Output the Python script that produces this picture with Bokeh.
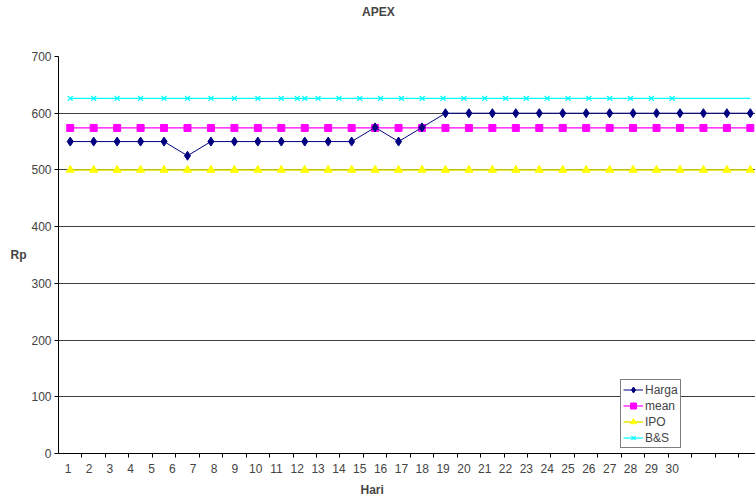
from bokeh.plotting import figure
from bokeh.models import FixedTicker, Legend, LegendItem, Range1d, Title
from bokeh.embed import file_html
from bokeh.resources import INLINE

# ---- data ----
days = list(range(1, 31))
day_labels = [str(d) for d in days]
harga = [550, 550, 550, 550, 550, 525, 550, 550, 550, 550,
         550, 550, 550, 575, 550, 575, 600, 600, 600, 600,
         600, 600, 600, 600, 600, 600, 600, 600, 600, 600]
mean = [574] * 30
ipo = [500] * 30
bs = [626] * 30
y_ticks = [0, 100, 200, 300, 400, 500, 600, 700]

# layout of the (squeezed) day labels, as in the reference
lab_start, lab_step = 0.914, 0.888
label_pos = [lab_start + lab_step * (d - 1) for d in days]
boundaries = [d + 0.5 for d in days]
# B&S markers: first days at their own category, later ones on label scale
bs_mark_x = days[:11] + label_pos[11:]
bs_mark_y = bs[:11] + bs[11:]

FONT = "Liberation Sans"

p = figure(width=755, height=501, output_backend="svg", toolbar_location=None,
           x_range=Range1d(0.5, 30.22), y_range=Range1d(0, 700),
           min_border_left=58, min_border_right=0, min_border_top=56, min_border_bottom=48)
p.outline_line_color = None
p.background_fill_color = "white"
p.border_fill_color = "white"

# title
p.title.text = "APEX"
p.title.text_font = FONT
p.title.text_font_size = "12px"
p.title.text_font_style = "bold"
p.title.align = "left"
p.title.offset = 303.5
p.title.standoff = 0

# empty spacer between title and plot area
p.add_layout(Title(text=" ", text_font=FONT, text_font_size="12px", standoff=22), "above")

# grid
p.xgrid.visible = False
p.ygrid.ticker = FixedTicker(ticks=y_ticks)
p.ygrid.grid_line_color = "black"
p.ygrid.grid_line_alpha = 0.75

# y axis
p.yaxis.ticker = FixedTicker(ticks=y_ticks)
p.yaxis.axis_label = "Rp"
p.yaxis.axis_label_orientation = "horizontal"
p.yaxis.axis_label_text_font = FONT
p.yaxis.axis_label_text_font_size = "12px"
p.yaxis.axis_label_text_font_style = "bold"
p.yaxis.axis_label_standoff = 2
p.yaxis.major_label_text_font = FONT
p.yaxis.major_label_text_font_size = "12px"
p.yaxis.major_label_standoff = 3
p.yaxis.major_tick_out = 4
p.yaxis.major_tick_in = 0
p.yaxis.minor_tick_line_color = None
p.yaxis.axis_line_color = "black"

# x axis
p.xaxis.ticker = FixedTicker(ticks=label_pos, minor_ticks=boundaries)
p.xaxis.major_label_overrides = {pos: lab for pos, lab in zip(label_pos, day_labels)}
p.xaxis.major_label_text_font = FONT
p.xaxis.major_label_text_font_size = "12px"
p.xaxis.major_label_standoff = 6
p.xaxis.major_tick_out = 0
p.xaxis.major_tick_in = 0
p.xaxis.minor_tick_out = 4
p.xaxis.minor_tick_in = 0
p.xaxis.minor_tick_line_color = "black"
p.xaxis.axis_line_color = "black"

# x axis title, placed under the day labels as in the reference
hari = Title(text="Hari", align="left", offset=302, text_font=FONT,
             text_font_size="12px", text_font_style="bold", standoff=10)
p.add_layout(hari, "below")

# series
l_bs = p.line(days, bs, line_color="#00FFFF", line_width=1.2)
m_bs = p.scatter(bs_mark_x, bs_mark_y, marker="x", size=7, line_color="#00FFFF", line_width=1.2)
l_ipo = p.line(days, ipo, line_color="#E6E600", line_width=1.5)
m_ipo = p.scatter(days, ipo, marker="triangle", size=8, fill_color="#FFFF00", line_color="#FFFF00")
l_mean = p.line(days, mean, line_color="#FF00FF", line_width=1.2)
m_mean = p.scatter(days, mean, marker="square", size=7, fill_color="#FF00FF", line_color="#FF00FF")
l_h = p.line(days, harga, line_color="#000080", line_width=1)
m_h = p.scatter(days, harga, marker="diamond", size=9, fill_color="#000080", line_color="#000080")

legend = Legend(items=[
    LegendItem(label="Harga", renderers=[l_h, m_h]),
    LegendItem(label="mean", renderers=[l_mean, m_mean]),
    LegendItem(label="IPO", renderers=[l_ipo, m_ipo]),
    LegendItem(label="B&S", renderers=[l_bs, m_bs]),
], location=(562, 5))
legend.label_text_font = FONT
legend.label_text_font_size = "12px"
legend.border_line_color = "black"
legend.border_line_width = 1
legend.background_fill_color = "white"
legend.background_fill_alpha = 1
legend.glyph_width = 20
legend.glyph_height = 15
legend.label_height = 15
legend.label_width = 10
legend.label_standoff = 2
legend.spacing = 1
legend.padding = 2
legend.margin = 0
p.add_layout(legend, "center")

open("out.html", "w").write(file_html(p, INLINE))
